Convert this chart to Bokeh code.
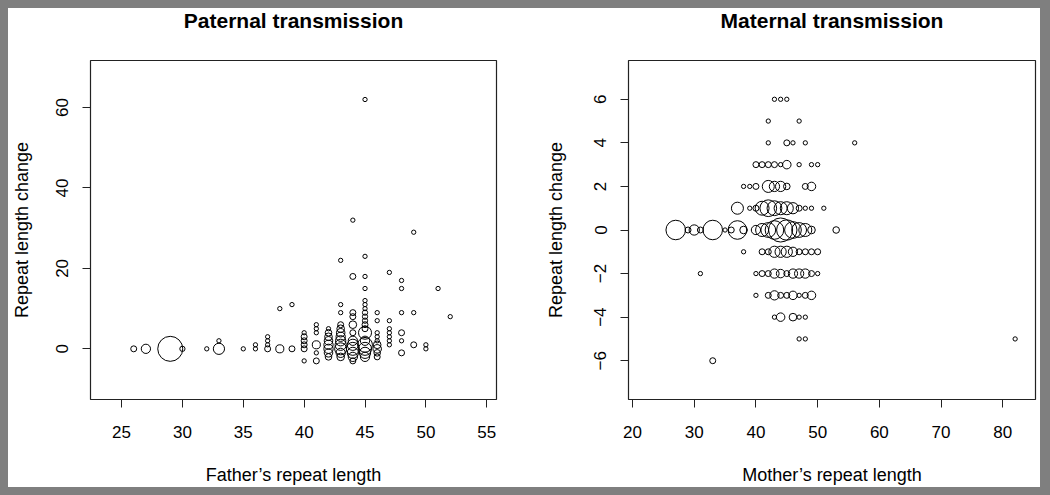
import math
from bokeh.plotting import figure
from bokeh.layouts import row
from bokeh.models import ColumnDataSource, FixedTicker, Range1d, Title
from bokeh.embed import file_html
from bokeh.resources import INLINE

# ---------------- data ----------------
# Paternal transmission: father's repeat length, repeat length change, number of transmissions
pat_father = [26, 27, 29, 30, 32, 33, 33, 35, 36, 36, 37, 37, 37, 37, 38, 39, 38, 39,
              40, 40, 40, 40, 40, 40,
              41, 41, 41, 41, 41, 41,
              42, 42, 42, 42, 42, 42, 42, 42,
              43, 43, 43, 43, 43, 43, 43, 43, 43, 43, 43, 43,
              44, 44, 44, 44, 44, 44, 44, 44, 44, 44, 44, 44,
              45, 45, 45, 45, 45, 45, 45, 45, 45, 45, 45, 45, 45, 45, 45, 45, 45, 45,
              46, 46, 46, 46, 46, 46, 46, 46, 46,
              47, 47, 47, 47, 47, 47, 47,
              48, 48, 48, 48, 48, 48,
              49, 49, 49,
              50, 50, 51, 52]
pat_change = [0, 0, 0, 0, 0, 0, 2, 0, 0, 1, 0, 1, 2, 3, 0, 0, 10, 11,
              4, 3, 2, 1, 0, -3,
              6, 5, 4, 1, -1, -3,
              5, 4, 3, 2, 1, 0, -1, -2,
              22, 11, 9, 6, 5, 4, 3, 2, 1, 0, -1, -2,
              32, 18, 9, 8, 6, 4, 2, 1, 0, -1, -2, -3,
              62, 23, 18, 15, 12, 11, 10, 9, 8, 7, 6, 5, 4, 2, 1, 0, -1, -2,
              9, 7, 4, 3, 2, 1, 0, -1, -2,
              19, 7, 5, 4, 3, 2, 1,
              17, 15, 9, 4, 2, -1,
              29, 9, 1,
              1, 0, 15, 8]
pat_count = [3, 10, 100, 2, 1, 16, 1, 1, 1, 1, 3, 1, 1, 1, 7, 3, 1, 1,
             1, 3, 3, 3, 3, 1,
             1, 1, 1, 7, 1, 3,
             1, 4, 6, 8, 10, 10, 8, 4,
             1, 1, 1, 3, 6, 8, 10, 13, 16, 19, 10, 6,
             1, 3, 3, 3, 6, 3, 10, 16, 23, 16, 10, 3,
             1, 1, 1, 1, 1, 1, 1, 2, 2, 2, 3, 3, 23, 10, 31, 23, 16, 10,
             1, 1, 1, 1, 1, 6, 8, 4, 3,
             1, 1, 1, 1, 1, 1, 1,
             1, 1, 1, 3, 1, 3,
             1, 1, 3,
             1, 1, 1, 1]

# Maternal transmission: mother's repeat length, repeat length change, number of transmissions
mat_mother = [43, 44, 45,
              42, 47,
              42, 45, 46, 48, 56,
              40, 41, 42, 43, 44, 45, 47, 49, 50,
              38, 39, 40, 42, 43, 44, 45, 48, 49,
              37, 39, 40, 41, 42, 43, 44, 45, 46, 47, 48, 49, 51,
              27, 29, 30, 31, 33, 35, 36, 37, 38, 40, 41, 42, 43, 44, 45, 46, 47, 48, 49, 53,
              38, 41, 42, 43, 44, 45, 46, 47, 48, 49, 50,
              31, 40, 41, 42, 43, 44, 45, 46, 47, 48, 49, 50,
              40, 42, 43, 44, 45, 46, 47, 48, 49,
              43, 44, 46, 47, 48,
              47, 48, 82,
              33]
mat_change = [6, 6, 6,
              5, 5,
              4, 4, 4, 4, 4,
              3, 3, 3, 3, 3, 3, 3, 3, 3,
              2, 2, 2, 2, 2, 2, 2, 2, 2,
              1, 1, 1, 1, 1, 1, 1, 1, 1, 1, 1, 1, 1,
              0, 0, 0, 0, 0, 0, 0, 0, 0, 0, 0, 0, 0, 0, 0, 0, 0, 0, 0, 0,
              -1, -1, -1, -1, -1, -1, -1, -1, -1, -1, -1,
              -2, -2, -2, -2, -2, -2, -2, -2, -2, -2, -2, -2,
              -3, -3, -3, -3, -3, -3, -3, -3, -3,
              -4, -4, -4, -4, -4,
              -5, -5, -5,
              -6]
mat_count = [1, 1, 1,
             1, 1,
             1, 3, 1, 1, 1,
             3, 3, 3, 3, 1, 8, 1, 1, 1,
             1, 1, 3, 19, 13, 13, 4, 3, 8,
             19, 1, 3, 27, 41, 31, 23, 23, 16, 3, 1, 1, 1,
             58, 3, 13, 3, 58, 1, 3, 52, 6, 10, 23, 31, 52, 92, 64, 41, 31, 23, 6, 4,
             1, 3, 3, 16, 16, 16, 10, 3, 3, 3, 3,
             1, 1, 3, 3, 10, 8, 3, 10, 10, 10, 3, 1,
             1, 3, 10, 3, 3, 8, 1, 3, 8,
             1, 8, 6, 1, 1,
             1, 1, 1,
             3]

pat_xticks = [25, 30, 35, 40, 45, 50, 55]
pat_yticks = [0, 20, 40, 60]
mat_xticks = [20, 30, 40, 50, 60, 70, 80]
mat_yticks = [-6, -4, -2, 0, 2, 4, 6]

FONT = "Liberation Sans"


def sym_size(counts):
    # circle diameter grows with sqrt(count)
    return [2.0 + 2.3 * math.sqrt(c) for c in counts]


def make_panel(title, xlab, xs, ys, counts, xr, yr, xticks, yticks,
               left_border, right_border, y_axis_standoff):
    p = figure(width=516, height=479, output_backend="svg", toolbar_location=None,
               title=None,
               x_range=Range1d(*xr), y_range=Range1d(*yr),
               min_border_left=left_border, min_border_right=right_border,
               min_border_top=52, min_border_bottom=87)
    # spacer title (nearest the frame) then the real title on top
    p.add_layout(Title(text=" ", text_font=FONT, text_font_size="19px", standoff=4,
                       text_color="white"), "above")
    p.add_layout(Title(text=title, align="center", text_font=FONT, text_font_size="21px",
                       text_font_style="bold", text_color="black", standoff=0,
                       vertical_align="top"), "above")
    p.xgrid.visible = False
    p.ygrid.visible = False
    p.background_fill_color = "white"
    p.border_fill_color = "white"
    p.outline_line_color = "#222222"
    p.outline_line_width = 1.2

    src = ColumnDataSource(dict(x=xs, y=ys, s=sym_size(counts)))
    p.scatter("x", "y", size="s", source=src, marker="circle",
              fill_color=None, line_color="black", line_width=1)

    for ax in (p.xaxis[0], p.yaxis[0]):
        ax.axis_line_color = None
        ax.major_tick_line_color = "#222222"
        ax.major_tick_out = 8
        ax.major_tick_in = 0
        ax.minor_tick_line_color = None
        ax.major_label_text_font = FONT
        ax.major_label_text_font_size = "17px"
        ax.major_label_text_color = "black"
        ax.axis_label_text_font = FONT
        ax.axis_label_text_font_size = "18px"
        ax.axis_label_text_font_style = "normal"
        ax.axis_label_text_color = "black"

    p.xaxis.ticker = FixedTicker(ticks=xticks)
    p.yaxis.ticker = FixedTicker(ticks=yticks)
    p.yaxis.major_label_overrides = {t: (str(t).replace("-", "\u2212")) for t in yticks}
    p.xaxis.axis_label = xlab
    p.yaxis.axis_label = "Repeat length change"
    p.yaxis.major_label_orientation = "parallel"
    p.xaxis.major_label_standoff = 18
    p.xaxis.axis_label_standoff = 24
    p.yaxis.major_label_standoff = 14
    p.yaxis.axis_label_standoff = y_axis_standoff
    return p


p1 = make_panel("Paternal transmission", "Father\u2019s repeat length",
                pat_father, pat_change, pat_count,
                (22.45, 55.8), (-12.6, 71.7), pat_xticks, pat_yticks, 82, 28, 22)
p2 = make_panel("Maternal transmission", "Mother\u2019s repeat length",
                mat_mother, mat_change, mat_count,
                (19.35, 85.3), (-7.78, 7.78), mat_xticks, mat_yticks, 104, 5, 26)

p = row(p1, p2, styles={"background-color": "white"})

html = file_html(p, INLINE)
style = ("<style>html, body { background-color: #7f7f7f !important; } "
         "body { padding: 8px !important; }</style>")
html = html.replace("</head>", style + "</head>", 1)
open("out.html", "w").write(html)
